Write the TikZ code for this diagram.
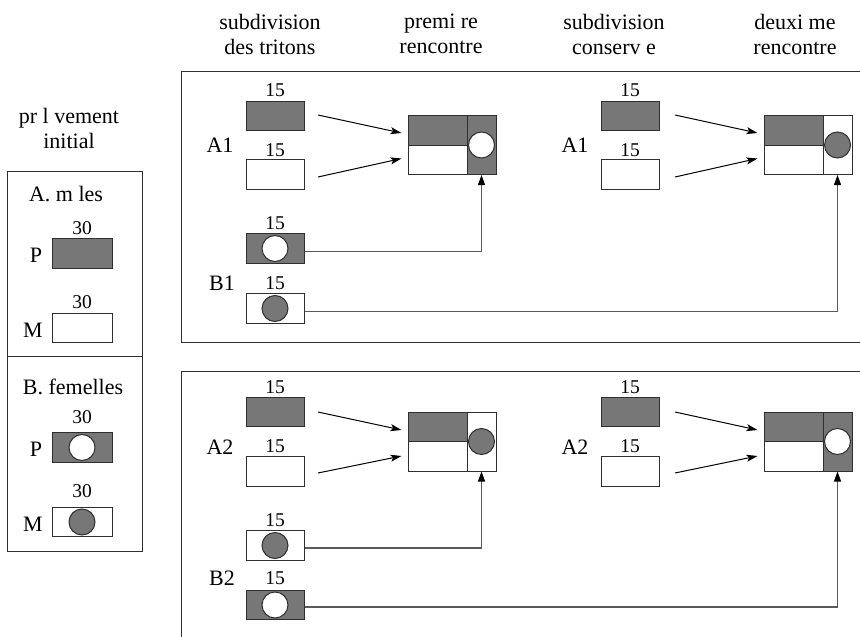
\documentclass[tikz,border=0pt]{standalone}
\usepackage{fontspec}
\setmainfont{Liberation Serif}
\usetikzlibrary{arrows.meta}
\definecolor{fillg}{HTML}{777777}
\definecolor{edgec}{HTML}{2f2f2f}
\definecolor{linec}{HTML}{5a5a5a}
\begin{document}
\begin{tikzpicture}[x=1pt,y=-1pt,
  box/.style={draw=edgec, line width=1pt, inner sep=0pt, minimum width=58pt, minimum height=29.5pt},
  gbox/.style={box, fill=fillg},
  wbox/.style={box, fill=white},
  lbox/.style={minimum width=60pt},
  halfbox/.style={minimum width=59pt, minimum height=29.5pt},
  sidebox/.style={minimum width=29pt, minimum height=59pt},
  wdot/.style={circle, draw=edgec, line width=1pt, fill=white, minimum size=26pt, inner sep=0pt},
  gdot/.style={circle, draw=edgec, line width=1pt, fill=fillg, minimum size=26pt, inner sep=0pt},
  lbl/.style={font=\fontsize{22}{25}\selectfont, inner sep=0pt, align=center},
  num/.style={font=\fontsize{19.5}{22}\selectfont, inner sep=0pt},
  frame/.style={draw=edgec, line width=1pt},
  arr/.style={draw=black, line width=1pt, -{Stealth[length=11pt, width=7pt, inset=2.5pt]}},
  conn/.style={draw=linec, line width=1.2pt, -{Triangle[length=10pt, width=7pt, color=black]}}
]
\useasboundingbox (0,0) rectangle (860,637);

% headers
\node[lbl] (h0) at (69,128) {pr l vement\\initial};
\node[lbl] (h1) at (270,34) {subdivision\\des tritons};
\node[lbl] (h2) at (441,34) {premi re\\rencontre};
\node[lbl] (h3) at (614,34) {subdivision\\conserv e};
\node[lbl] (h4) at (795,34) {deuxi me\\rencontre};

% left box
\draw[frame] (7,171) rectangle (142,551);
\draw[frame] (7,356) -- (142,356);
\node[lbl] (la) at (66,194) {A. m les};
\node[num] (la30p) at (82,228) {30};
\node[gbox,lbox] (lap) at (82,253.5) {};
\node[lbl] (lapl) at (36,255) {P};
\node[num] (la30m) at (82,302) {30};
\node[wbox,lbox] (lam) at (82,328) {};
\node[lbl] (laml) at (33,330) {M};
\node[lbl] (lb) at (73,387) {B. femelles};
\node[num] (lb30p) at (82,417) {30};
\node[gbox,lbox] (lbp) at (82,447.5) {};
\node[wdot] (lbpd) at (lbp) {};
\node[lbl] (lbpl) at (36,449) {P};
\node[num] (lb30m) at (82,491) {30};
\node[wbox,lbox] (lbm) at (82,522) {};
\node[gdot] (lbmd) at (lbm) {};
\node[lbl] (lbml) at (33,524) {M};

% top panel frame
\draw[frame] (862,71) -- (181,71) -- (181,342) -- (862,342);
% bottom panel frame
\draw[frame] (862,371) -- (181,371) -- (181,640);

% ===== top panel =====
\node[num] (n1) at (275,90) {15};
\node[gbox] (a1p) at (275,116) {};
\node[lbl] (a1l) at (220,145) {A1};
\node[num] (n2) at (275,150) {15};
\node[wbox] (a1m) at (275,174.5) {};
\node[num] (n3) at (275,223) {15};
\node[gbox] (b1p) at (275,248.5) {};
\node[wdot] (b1pd) at (b1p) {};
\node[lbl] (b1l) at (222,283) {B1};
\node[num] (n4) at (275,283) {15};
\node[wbox] (b1m) at (275,308.5) {};
\node[gdot] (b1md) at (b1m) {};

% first meeting (top)
\node[gbox,halfbox] (t1a) at (437.5,130.5) {};
\node[wbox,halfbox] (t1b) at (437.5,160) {};
\node[gbox,sidebox] (t1c) at (481.5,145) {};
\node[wdot] (t1d) at (t1c) {};

% second column (top)
\node[num] (n5) at (630,90) {15};
\node[gbox] (a1p2) at (630,116) {};
\node[lbl] (a1l2) at (575,145) {A1};
\node[num] (n6) at (630,150) {15};
\node[wbox] (a1m2) at (630,174.5) {};

% second meeting (top)
\node[gbox,halfbox] (t2a) at (793.5,130.5) {};
\node[wbox,halfbox] (t2b) at (793.5,160) {};
\node[wbox,sidebox] (t2c) at (837.5,145) {};
\node[gdot] (t2d) at (t2c) {};

\coordinate (s1) at (318,115);
\coordinate (s2) at (318,177);
\coordinate (s3) at (675,115);
\coordinate (s4) at (675,177);
\draw[arr] (s1) -- ([xshift=-6pt,yshift=-2.5pt]t1a.west);
\draw[arr] (s2) -- ([xshift=-6pt,yshift=1.5pt]t1b.west);
\draw[arr] (s3) -- ([xshift=-6pt,yshift=-2.5pt]t2a.west);
\draw[arr] (s4) -- ([xshift=-6pt,yshift=1.5pt]t2b.west);
\draw[conn] ([yshift=-3pt]b1p.east) -| (t1c.south);
\draw[conn] ([yshift=-3pt]b1m.east) -| (t2c.south);

% ===== bottom panel =====
\node[num] (m1) at (275,387) {15};
\node[gbox] (a2p) at (275,412) {};
\node[lbl] (a2l) at (220,447) {A2};
\node[num] (m2) at (275,446) {15};
\node[wbox] (a2m) at (275,471.5) {};
\node[num] (m3) at (275,520) {15};
\node[wbox] (b2m) at (275,545.5) {};
\node[gdot] (b2md) at (b2m) {};
\node[lbl] (b2l) at (222,578) {B2};
\node[num] (m4) at (275,578) {15};
\node[gbox] (b2p) at (275,605) {};
\node[wdot] (b2pd) at (b2p) {};

\node[gbox,halfbox] (u1a) at (437.5,427) {};
\node[wbox,halfbox] (u1b) at (437.5,456.5) {};
\node[wbox,sidebox] (u1c) at (481.5,441.5) {};
\node[gdot] (u1d) at (u1c) {};

\node[num] (m5) at (630,387) {15};
\node[gbox] (a2p2) at (630,412) {};
\node[lbl] (a2l2) at (575,447) {A2};
\node[num] (m6) at (630,446) {15};
\node[wbox] (a2m2) at (630,471.5) {};

\node[gbox,halfbox] (u2a) at (793.5,427) {};
\node[wbox,halfbox] (u2b) at (793.5,456.5) {};
\node[gbox,sidebox] (u2c) at (837.5,441.5) {};
\node[wdot] (u2d) at (u2c) {};

\coordinate (r1) at (318,412);
\coordinate (r2) at (318,473);
\coordinate (r3) at (675,412);
\coordinate (r4) at (675,473);
\draw[arr] (r1) -- ([xshift=-6pt,yshift=-3pt]u1a.west);
\draw[arr] (r2) -- ([xshift=-6pt,yshift=0.5pt]u1b.west);
\draw[arr] (r3) -- ([xshift=-6pt,yshift=-3pt]u2a.west);
\draw[arr] (r4) -- ([xshift=-6pt,yshift=0.5pt]u2b.west);
\draw[conn] ([yshift=-2.5pt]b2m.east) -| (u1c.south);
\draw[conn] ([yshift=-2pt]b2p.east) -| (u2c.south);
\end{tikzpicture}
\end{document}
